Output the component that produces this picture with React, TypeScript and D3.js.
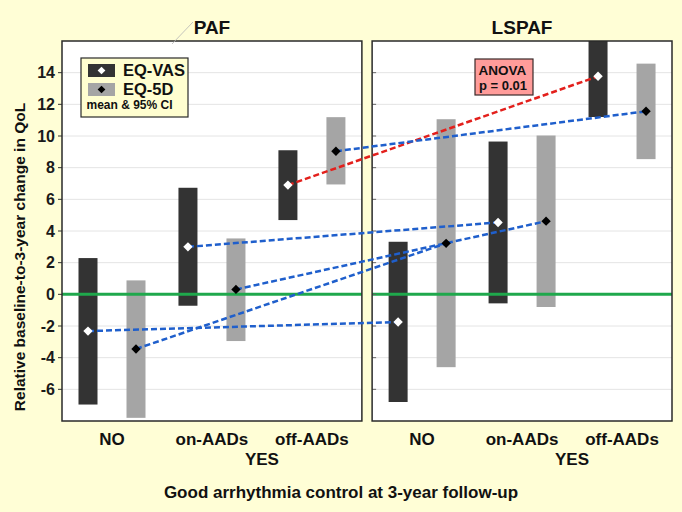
import React, { useRef, useEffect } from 'react';
import * as d3 from 'd3';

// panels and categories
const panels = ['PAF', 'LSPAF'];
const categories = ['NO', 'on-AADs', 'off-AADs'];
const measures = ['EQ-VAS', 'EQ-5D'];
const yTicks = [-6, -4, -2, 0, 2, 4, 6, 8, 10, 12, 14];

// EQ-VAS: mean and 95% CI per panel (NO, on-AADs, off-AADs)
const vasMeanPAF = [-2.32, 3.0, 6.9];
const vasLowPAF = [-6.96, -0.72, 4.69];
const vasHighPAF = [2.29, 6.73, 9.1];
const vasMeanLSPAF = [-1.75, 4.54, 13.77];
const vasLowLSPAF = [-6.8, -0.57, 11.2];
const vasHighLSPAF = [3.32, 9.65, 16.5];

// EQ-5D
const eq5dMeanPAF = [-3.45, 0.31, 9.04];
const eq5dLowPAF = [-7.8, -2.95, 6.94];
const eq5dHighPAF = [0.88, 3.53, 11.19];
const eq5dMeanLSPAF = [3.22, 4.62, 11.56];
const eq5dLowLSPAF = [-4.6, -0.8, 8.54];
const eq5dHighLSPAF = [11.06, 10.03, 14.57];

const font = 'Arial, "Liberation Sans", sans-serif';

const App: React.FC = () => {
  const svgRef = useRef<SVGSVGElement>(null);

  useEffect(() => {
    if (!svgRef.current) return;
    const W = 682, H = 512;
    const top = 41, bottom = 421;

    d3.select(svgRef.current).selectAll('*').remove();
    const svg = d3.select(svgRef.current).attr('width', W).attr('height', H);

    svg.append('rect').attr('width', W).attr('height', H).attr('fill', '#fffed6');

    const y = d3.scaleLinear().domain([-8, 16]).range([bottom, top]);
    const panelX = d3.scaleBand<string>().domain(panels).range([62, 672]).paddingInner(0.033);
    const catX = d3.scaleBand<string>().domain(categories).range([0, panelX.bandwidth()]);
    const measX = d3.scalePoint<string>().domain(measures).range([26, 74]);
    const barW = 19;

    const data: Record<string, Record<string, { mean: number[]; low: number[]; high: number[] }>> = {
      PAF: {
        'EQ-VAS': { mean: vasMeanPAF, low: vasLowPAF, high: vasHighPAF },
        'EQ-5D': { mean: eq5dMeanPAF, low: eq5dLowPAF, high: eq5dHighPAF },
      },
      LSPAF: {
        'EQ-VAS': { mean: vasMeanLSPAF, low: vasLowLSPAF, high: vasHighLSPAF },
        'EQ-5D': { mean: eq5dMeanLSPAF, low: eq5dLowLSPAF, high: eq5dHighLSPAF },
      },
    };
    const barColor: Record<string, string> = { 'EQ-VAS': '#333333', 'EQ-5D': '#a5a5a5' };
    const dotColor: Record<string, string> = { 'EQ-VAS': '#ffffff', 'EQ-5D': '#000000' };
    const px = (p: string, c: string, m: string) =>
      (panelX(p) as number) + (catX(c) as number) + (measX(m) as number);

    panels.forEach(p => {
      const x0 = panelX(p) as number;
      const pw = panelX.bandwidth();
      const g = svg.append('g');
      const clipId = `clip-${p}`;
      svg.append('clipPath').attr('id', clipId)
        .append('rect').attr('x', x0).attr('y', top).attr('width', pw).attr('height', bottom - top);

      g.append('rect').attr('x', x0).attr('y', top).attr('width', pw).attr('height', bottom - top).attr('fill', '#ffffff');

      // grid
      g.selectAll('.grid').data(yTicks.filter(t => t !== 0)).enter().append('line')
        .attr('x1', x0).attr('x2', x0 + pw)
        .attr('y1', d => y(d)).attr('y2', d => y(d))
        .attr('stroke', '#e4e4e4').attr('stroke-width', 1);

      // bars
      const bars = g.append('g').attr('clip-path', `url(#${clipId})`);
      measures.forEach(m => {
        bars.selectAll(`.bar-${m}`).data(categories).enter().append('rect')
          .attr('x', (c) => px(p, c, m) - barW / 2)
          .attr('width', barW)
          .attr('y', (c, i) => y(data[p][m].high[i]))
          .attr('height', (c, i) => y(data[p][m].low[i]) - y(data[p][m].high[i]))
          .attr('fill', barColor[m]);
      });

      // zero line
      g.append('line').attr('x1', x0).attr('x2', x0 + pw).attr('y1', y(0)).attr('y2', y(0))
        .attr('stroke', '#1fa84c').attr('stroke-width', 3);

      // ticks
      if (p === panels[0]) {
        g.selectAll('.tick').data(yTicks).enter().append('line')
          .attr('x1', x0 - 4).attr('x2', x0).attr('y1', d => y(d)).attr('y2', d => y(d))
          .attr('stroke', '#333');
        g.selectAll('.ticklabel').data(yTicks).enter().append('text')
          .attr('x', x0 - 7).attr('y', d => y(d)).attr('dy', '0.36em')
          .attr('text-anchor', 'end').attr('font-family', font).attr('font-weight', 'bold')
          .attr('font-size', 16).attr('fill', '#1a1a1a').text(d => d);
      } else {
        g.selectAll('.tick').data(yTicks).enter().append('line')
          .attr('x1', x0).attr('x2', x0 + 4).attr('y1', d => y(d)).attr('y2', d => y(d))
          .attr('stroke', '#666');
      }

      // frame
      g.append('rect').attr('x', x0).attr('y', top).attr('width', pw).attr('height', bottom - top)
        .attr('fill', 'none').attr('stroke', '#2a2a2a').attr('stroke-width', 1.5);

      // title
      g.append('text').attr('x', x0 + pw / 2).attr('y', 34).attr('text-anchor', 'middle')
        .attr('font-family', font).attr('font-weight', 'bold').attr('font-size', 19)
        .attr('fill', '#111').text(p);

      // category labels
      g.selectAll('.cat').data(categories).enter().append('text')
        .attr('x', c => x0 + (catX(c) as number) + catX.bandwidth() / 2).attr('y', 444.5)
        .attr('text-anchor', 'middle').attr('font-family', font).attr('font-weight', 'bold')
        .attr('font-size', 17).attr('fill', '#111').text(c => c);
      g.append('text')
        .attr('x', x0 + ((catX('on-AADs') as number) + (catX('off-AADs') as number)) / 2 + catX.bandwidth() / 2)
        .attr('y', 464.5).attr('text-anchor', 'middle').attr('font-family', font)
        .attr('font-weight', 'bold').attr('font-size', 17).attr('fill', '#111').text('YES');
    });

    // connecting dashed lines PAF -> LSPAF
    measures.forEach(m => {
      categories.forEach((c, i) => {
        const red = m === 'EQ-VAS' && c === 'off-AADs';
        svg.append('line')
          .attr('x1', px('PAF', c, m)).attr('y1', y(data.PAF[m].mean[i]))
          .attr('x2', px('LSPAF', c, m)).attr('y2', y(data.LSPAF[m].mean[i]))
          .attr('stroke', red ? '#e3201c' : '#1f5fcc').attr('stroke-width', 2.5)
          .attr('stroke-dasharray', '6,3');
      });
    });

    // mean diamonds
    const diamond = d3.symbol().type(d3.symbolSquare).size(44);
    panels.forEach(p => {
      measures.forEach(m => {
        svg.selectAll(`.dot-${p}-${m}`).data(categories).enter().append('path')
          .attr('d', diamond)
          .attr('transform', (c, i) => `translate(${px(p, c, m)},${y(data[p][m].mean[i])}) rotate(45)`)
          .attr('fill', dotColor[m]);
      });
    });

    // legend
    const lg = svg.append('g').attr('transform', 'translate(81,58)');
    lg.append('rect').attr('width', 107).attr('height', 59).attr('fill', '#fffed0')
      .attr('stroke', '#2a2a2a').attr('stroke-width', 1.2);
    measures.forEach((m, i) => {
      lg.append('rect').attr('x', 7).attr('y', 6 + i * 19).attr('width', 27).attr('height', 13)
        .attr('fill', barColor[m]);
      lg.append('path').attr('d', d3.symbol().type(d3.symbolSquare).size(30)())
        .attr('transform', `translate(20.5,${12.5 + i * 19}) rotate(45)`).attr('fill', dotColor[m]);
      lg.append('text').attr('x', 42).attr('y', 18 + i * 19).attr('font-family', font)
        .attr('font-weight', 'bold').attr('font-size', 16.5).attr('fill', '#111').text(m);
    });
    lg.append('text').attr('x', 5.5).attr('y', 51).attr('font-family', font)
      .attr('font-weight', 'bold').attr('font-size', 12).attr('fill', '#111').text('mean & 95% CI');

    // ANOVA box
    const ab = svg.append('g').attr('transform', 'translate(475,59)');
    ab.append('rect').attr('width', 58).attr('height', 36).attr('fill', '#ff9c9a')
      .attr('stroke', '#3a2a2a').attr('stroke-width', 1.2);
    ab.append('text').attr('x', 27.5).attr('y', 15.5).attr('text-anchor', 'middle').attr('font-family', font)
      .attr('font-weight', 'bold').attr('font-size', 13.5).attr('fill', '#111').text('ANOVA');
    ab.append('text').attr('x', 28).attr('y', 31).attr('text-anchor', 'middle').attr('font-family', font)
      .attr('font-weight', 'bold').attr('font-size', 13).attr('fill', '#111').text('p = 0.01');

    // faint leader line near PAF title
    svg.append('line').attr('x1', 172).attr('y1', 44).attr('x2', 193).attr('y2', 22)
      .attr('stroke', '#b5b5b5').attr('stroke-width', 0.8);

    // axis titles
    svg.append('text').attr('transform', 'translate(25,257) rotate(-90)').attr('text-anchor', 'middle')
      .attr('font-family', font).attr('font-weight', 'bold').attr('font-size', 15.5).attr('fill', '#111')
      .text('Relative baseline-to-3-year change in QoL');
    svg.append('text').attr('x', 341).attr('y', 498).attr('text-anchor', 'middle')
      .attr('font-family', font).attr('font-weight', 'bold').attr('font-size', 17).attr('fill', '#111')
      .text('Good arrhythmia control at 3-year follow-up');
  }, []);

  return <svg ref={svgRef} style={{ position: 'absolute', left: 0, top: 0, display: 'block' }} />;
};

export default App;
